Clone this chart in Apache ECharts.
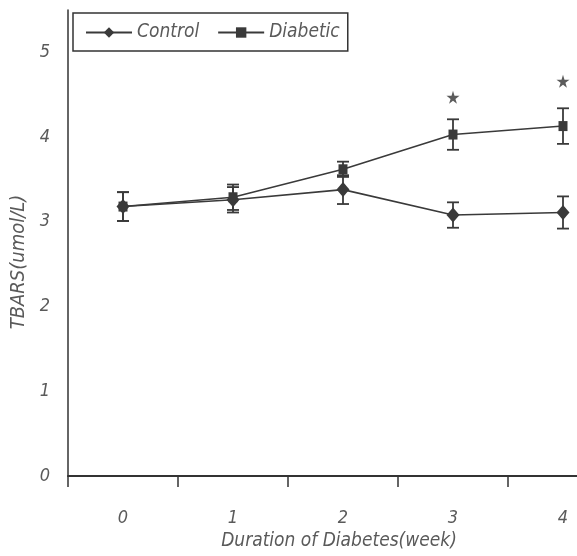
<!DOCTYPE html>
<html><head><meta charset="utf-8">
<script src="https://cdn.jsdelivr.net/npm/echarts@6/dist/echarts.min.js"></script>
<style>html,body{margin:0;padding:0;background:#fff;overflow:hidden;width:577px;height:556px}#c{width:620px;height:556px}</style>
</head><body><div id="c"></div>
<script>
const weeks = ['0', '1', '2', '3', '4'];
const controlMean = [3.18, 3.26, 3.38, 3.08, 3.11];
const controlErr = [0.17, 0.15, 0.17, 0.15, 0.19];
const diabeticMean = [3.18, 3.29, 3.62, 4.03, 4.13];
const diabeticErr = [0.17, 0.15, 0.09, 0.18, 0.21];
const starWeeks = ['3', '4'];
const starValues = [4.47, 4.66];
const yTickLabels = ['0', '1', '2', '3', '4', '5'];

const FONT = "'Liberation Sans Narrow', 'Arial Narrow', 'DejaVu Sans Condensed', sans-serif";
const TXT = '#5a5a5a';
const INK = '#3a3a3a';

const chart = echarts.init(document.getElementById('c'), null, {renderer: 'canvas'});

function errData(means, errs) {
  return means.map((m, i) => [i, m, errs[i]]);
}
function errRender(params, api) {
  const x = api.value(0), m = api.value(1), e = api.value(2);
  const top = api.coord([x, m + e]);
  const bot = api.coord([x, m - e]);
  const hw = 6;
  const st = {stroke: INK, lineWidth: 1.8};
  return {
    type: 'group',
    children: [
      {type: 'line', shape: {x1: top[0], y1: top[1], x2: bot[0], y2: bot[1]}, style: st},
      {type: 'line', shape: {x1: top[0] - hw, y1: top[1], x2: top[0] + hw, y2: top[1]}, style: st},
      {type: 'line', shape: {x1: bot[0] - hw, y1: bot[1], x2: bot[0] + hw, y2: bot[1]}, style: st}
    ]
  };
}

const option = {
  animation: false,
  backgroundColor: '#fff',
  grid: {left: 68, top: 10, width: 550, height: 467, containLabel: false},
  legend: {
    left: 73, top: 13,
    padding: [10, 8, 9, 12],
    borderColor: '#333', borderWidth: 1.5,
    itemWidth: 46, itemHeight: 13, itemGap: 18,
    textStyle: {fontFamily: FONT, fontStyle: 'italic', fontSize: 19, color: TXT},
    data: ['Control', 'Diabetic']
  },
  xAxis: {
    type: 'category',
    data: weeks,
    boundaryGap: true,
    name: 'Duration of Diabetes(week)',
    nameLocation: 'middle',
    nameGap: 56,
    nameTextStyle: {fontFamily: FONT, fontStyle: 'italic', fontSize: 19, color: TXT, padding: [0, 8, 0, 0]},
    axisLine: {lineStyle: {color: '#333', width: 2}},
    axisTick: {show: true, length: 11, lineStyle: {color: '#333', width: 1.5}},
    axisLabel: {margin: 33, fontFamily: FONT, fontStyle: 'italic', fontSize: 18, color: TXT},
    splitLine: {show: false}
  },
  yAxis: {
    type: 'value',
    min: 0, max: 5.5, interval: 1,
    name: 'TBARS(umol/L)',
    nameLocation: 'middle',
    nameGap: 36,
    nameTextStyle: {fontFamily: FONT, fontStyle: 'italic', fontSize: 20, color: TXT, padding: [0, 38, 0, 0]},
    axisLine: {show: true, lineStyle: {color: '#333', width: 1.5}},
    axisTick: {show: false},
    axisLabel: {
      margin: 18, fontFamily: FONT, fontStyle: 'italic', fontSize: 18, color: TXT,
      formatter: v => (Number.isInteger(v) ? yTickLabels[v] : '')
    },
    splitLine: {show: false}
  },
  series: [
    {
      name: 'ControlErr', type: 'custom', z: 1,
      renderItem: errRender, data: errData(controlMean, controlErr),
      encode: {x: 0, y: 1}, silent: true
    },
    {
      name: 'DiabeticErr', type: 'custom', z: 1,
      renderItem: errRender, data: errData(diabeticMean, diabeticErr),
      encode: {x: 0, y: 1}, silent: true
    },
    {
      name: 'Control', type: 'line', z: 3,
      data: controlMean,
      symbol: 'diamond', symbolSize: [13, 15],
      itemStyle: {color: INK},
      lineStyle: {color: INK, width: 1.6}
    },
    {
      name: 'Diabetic', type: 'line', z: 4,
      data: diabeticMean,
      symbol: 'rect', symbolSize: [9, 10],
      itemStyle: {color: INK},
      lineStyle: {color: INK, width: 1.6}
    },
    {
      name: 'Significance', type: 'scatter', z: 5,
      data: starWeeks.map((w, i) => [w, starValues[i]]),
      symbol: 'path://M50,0 L61,35 L98,35 L68,57 L79,91 L50,70 L21,91 L32,57 L2,35 L39,35 Z',
      symbolSize: 13,
      itemStyle: {color: '#333'}
    }
  ]
};
chart.setOption(option);
</script>
</body></html>
